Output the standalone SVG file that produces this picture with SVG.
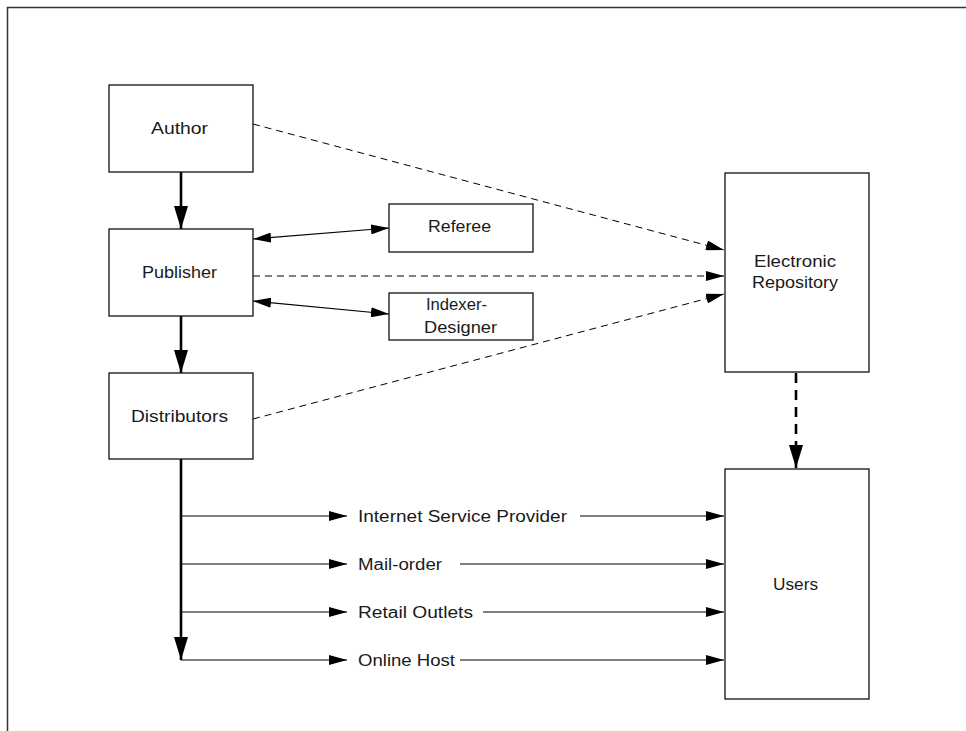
<svg xmlns="http://www.w3.org/2000/svg" width="966" height="731" viewBox="0 0 966 731">
<defs>
<style>
.box{fill:#fff;stroke:#111;stroke-width:1.3}
.lbl{font-family:"Liberation Sans",Arial,Helvetica,sans-serif;font-size:16px;fill:#1a1a1a}
.thin{fill:none;stroke:#000;stroke-width:1.2}
.dash{fill:none;stroke:#000;stroke-width:1;stroke-dasharray:7,5}
.thick{fill:none;stroke:#000;stroke-width:2.6}
.thickdash{fill:none;stroke:#000;stroke-width:2.6;stroke-dasharray:10,7}
.frame{fill:none;stroke:#333;stroke-width:1.5}
</style>
<marker id="ah" viewBox="0 0 18 10" refX="18" refY="5" markerWidth="18" markerHeight="10" markerUnits="userSpaceOnUse" orient="auto-start-reverse">
<path d="M0,0 L18,5 L0,10 z" fill="#000"/>
</marker>
<marker id="ahb" viewBox="0 0 23 14" refX="23" refY="7" markerWidth="23" markerHeight="14" markerUnits="userSpaceOnUse" orient="auto">
<path d="M0,0 L23,7 L0,14 z" fill="#000"/>
</marker>
</defs>
<rect width="966" height="731" fill="#fff"/>
<path class="frame" d="M7.5,731 L7.5,7.5 L966,7.5"/>

<g id="connectors">
<line class="thick" x1="181" y1="172" x2="181" y2="229" marker-end="url(#ahb)"/>
<line class="thick" x1="181" y1="316" x2="181" y2="373" marker-end="url(#ahb)"/>
<line class="thick" x1="181" y1="459" x2="181" y2="660" marker-end="url(#ahb)"/>
<line class="thin" x1="253" y1="239" x2="389" y2="228" marker-start="url(#ah)" marker-end="url(#ah)"/>
<line class="thin" x1="253" y1="301" x2="389" y2="314" marker-start="url(#ah)" marker-end="url(#ah)"/>
<line class="dash" x1="253" y1="124" x2="724" y2="250" marker-end="url(#ah)"/>
<line class="dash" x1="253" y1="276" x2="724" y2="276" marker-end="url(#ah)"/>
<line class="dash" x1="253" y1="419" x2="724" y2="294" marker-end="url(#ah)"/>
<line class="thickdash" x1="796" y1="373" x2="796" y2="468" marker-end="url(#ahb)"/>
<line class="thin" x1="181" y1="516" x2="347" y2="516" marker-end="url(#ah)"/>
<line class="thin" x1="181" y1="564" x2="347" y2="564" marker-end="url(#ah)"/>
<line class="thin" x1="181" y1="612" x2="347" y2="612" marker-end="url(#ah)"/>
<line class="thin" x1="181" y1="660" x2="347" y2="660" marker-end="url(#ah)"/>
<line class="thin" x1="580" y1="516" x2="724" y2="516" marker-end="url(#ah)"/>
<line class="thin" x1="460" y1="564" x2="724" y2="564" marker-end="url(#ah)"/>
<line class="thin" x1="483" y1="612" x2="724" y2="612" marker-end="url(#ah)"/>
<line class="thin" x1="460" y1="660" x2="724" y2="660" marker-end="url(#ah)"/>
<text class="lbl" x="358" y="522" textLength="209" lengthAdjust="spacingAndGlyphs">Internet Service Provider</text>
<text class="lbl" x="358" y="570" textLength="84" lengthAdjust="spacingAndGlyphs">Mail-order</text>
<text class="lbl" x="358" y="618" textLength="115" lengthAdjust="spacingAndGlyphs">Retail Outlets</text>
<text class="lbl" x="358" y="666" textLength="97" lengthAdjust="spacingAndGlyphs">Online Host</text>
</g>

<g id="author">
<rect class="box" x="109" y="85" width="144" height="87"/>
<text class="lbl" x="151" y="134" textLength="57" lengthAdjust="spacingAndGlyphs">Author</text>
</g>
<g id="publisher">
<rect class="box" x="109" y="229" width="144" height="87"/>
<text class="lbl" x="142" y="278" textLength="75" lengthAdjust="spacingAndGlyphs">Publisher</text>
</g>
<g id="distributors">
<rect class="box" x="109" y="373" width="144" height="86"/>
<text class="lbl" x="131" y="422" textLength="97" lengthAdjust="spacingAndGlyphs">Distributors</text>
</g>
<g id="referee">
<rect class="box" x="389" y="204" width="144" height="48"/>
<text class="lbl" x="428" y="232" textLength="63" lengthAdjust="spacingAndGlyphs">Referee</text>
</g>
<g id="indexer-designer">
<rect class="box" x="389" y="293" width="144" height="47"/>
<text class="lbl" x="426" y="310" textLength="61" lengthAdjust="spacingAndGlyphs">Indexer-</text>
<text class="lbl" x="424" y="333" textLength="73" lengthAdjust="spacingAndGlyphs">Designer</text>
</g>
<g id="electronic-repository">
<rect class="box" x="725" y="173" width="144" height="199"/>
<text class="lbl" x="754" y="267" textLength="82" lengthAdjust="spacingAndGlyphs">Electronic</text>
<text class="lbl" x="752" y="288" textLength="86" lengthAdjust="spacingAndGlyphs">Repository</text>
</g>
<g id="users">
<rect class="box" x="725" y="469" width="144" height="230"/>
<text class="lbl" x="773" y="590" textLength="45" lengthAdjust="spacingAndGlyphs">Users</text>
</g>
</svg>
